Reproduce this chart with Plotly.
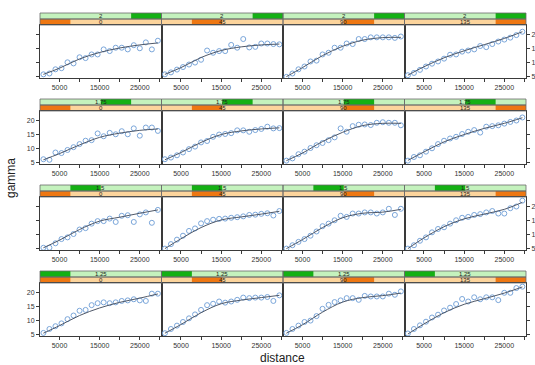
import plotly.graph_objects as go

# ---------------- data ----------------
anis_levels = ["2", "1.75", "1.5", "1.25"]          # rows, top to bottom
anis_pos = [3, 2, 1, 0]                               # level index of the shingle block
dir_levels = ["0", "45", "90", "135"]                 # columns, left to right
dir_pos = [0, 1, 2, 3]

lags = [1000, 2500, 4000, 5500, 7000, 8500, 10000, 11500, 13000, 14500,
        16000, 17500, 19000, 20500, 22000, 23500, 25000, 26500, 28000, 29500]
fit_x = [1000, 5000, 10000, 15000, 20000, 25000, 29500]

# observed semivariances (rows: anis 2, 1.75, 1.5, 1.25; cols: dir 0, 45, 90, 135)
g_2_0 = [5.8, 6.1, 7.6, 8.0, 10.1, 9.7, 11.9, 11.6, 12.9, 12.9, 14.7, 14.1, 15.3, 15.3, 14.7, 16.2, 15.1, 17.2, 14.7, 17.8]
g_2_45 = [5.8, 6.5, 7.5, 8.4, 9.3, 10.0, 11.0, 14.3, 13.5, 14.1, 14.1, 16.3, 15.3, 18.4, 15.4, 15.6, 16.8, 16.8, 16.6, 16.5]
g_2_90 = [4.9, 6.1, 7.6, 8.6, 10.4, 10.7, 12.9, 13.5, 15.3, 15.3, 16.8, 16.6, 18.4, 18.4, 19.0, 19.0, 19.0, 19.0, 18.8, 19.3]
g_2_135 = [5.5, 6.3, 7.4, 8.6, 9.6, 10.4, 11.4, 12.8, 12.9, 13.9, 14.3, 14.7, 15.9, 15.5, 16.6, 17.5, 18.2, 18.9, 19.8, 21.0]

g_175_0 = [6.2, 6.0, 8.6, 8.4, 9.5, 10.5, 11.6, 12.8, 13.0, 15.4, 14.4, 15.6, 15.1, 16.2, 15.1, 17.2, 14.6, 17.5, 17.5, 16.3]
g_175_45 = [6.2, 6.8, 7.6, 8.6, 9.8, 10.7, 12.2, 12.7, 14.2, 15.0, 15.2, 15.5, 16.5, 16.5, 16.0, 16.6, 17.0, 17.8, 17.2, 17.3]
g_175_90 = [5.7, 6.5, 8.0, 8.9, 10.2, 11.2, 12.0, 13.0, 14.0, 17.2, 16.0, 18.0, 18.5, 18.6, 18.4, 19.2, 19.4, 19.2, 19.2, 18.3]
g_175_135 = [5.7, 7.0, 7.6, 8.9, 10.1, 11.6, 12.8, 13.6, 14.2, 15.2, 16.0, 16.6, 15.7, 17.8, 18.0, 18.3, 18.9, 19.5, 20.0, 21.1]

g_15_0 = [5.3, 5.3, 6.9, 8.4, 9.0, 10.2, 11.8, 12.3, 13.9, 14.8, 14.8, 15.7, 14.5, 16.7, 16.9, 14.5, 17.2, 17.9, 14.2, 18.8]
g_15_45 = [5.0, 6.6, 8.2, 9.6, 11.3, 12.2, 14.0, 14.8, 15.3, 15.6, 15.7, 16.0, 16.2, 16.5, 17.0, 17.1, 17.4, 17.6, 16.8, 18.4]
g_15_90 = [5.0, 6.2, 7.4, 8.4, 9.6, 11.1, 13.0, 13.9, 15.1, 16.7, 16.3, 17.5, 17.5, 17.9, 17.9, 17.5, 17.9, 19.2, 17.0, 19.2]
g_15_135 = [5.0, 6.2, 7.8, 9.0, 10.8, 12.0, 12.6, 13.9, 15.1, 16.0, 16.3, 17.0, 17.3, 17.9, 18.4, 17.5, 17.5, 19.4, 20.0, 22.1]

g_125_0 = [5.6, 7.0, 8.0, 9.0, 10.5, 11.8, 13.5, 13.8, 15.5, 16.2, 16.5, 16.2, 16.5, 17.0, 17.2, 17.6, 17.2, 17.0, 19.6, 19.6]
g_125_45 = [5.5, 7.0, 8.2, 9.5, 10.8, 12.2, 13.8, 15.5, 16.0, 16.8, 16.4, 16.8, 17.4, 18.2, 18.0, 18.2, 18.2, 18.4, 17.0, 19.0]
g_125_90 = [5.6, 7.0, 8.2, 9.5, 10.0, 11.6, 14.2, 15.6, 16.6, 17.2, 18.0, 18.0, 17.4, 18.8, 18.6, 18.6, 18.6, 19.6, 19.2, 20.4]
g_125_135 = [5.4, 7.0, 8.3, 9.6, 11.1, 12.1, 13.6, 14.6, 15.9, 17.7, 16.8, 18.3, 17.6, 18.3, 18.3, 17.3, 19.9, 19.9, 21.6, 22.1]

# fitted model curve values at fit_x
f_2_0 = [5.8, 8.0, 11.3, 13.6, 15.2, 16.3, 17.0]
f_2_45 = [5.8, 8.2, 11.8, 14.3, 15.6, 16.3, 16.6]
f_2_90 = [5.0, 8.2, 12.5, 15.8, 18.0, 18.9, 19.0]
f_2_135 = [5.5, 8.5, 11.7, 14.2, 16.4, 18.6, 21.0]
f_175_0 = [6.0, 8.2, 11.3, 14.0, 15.5, 16.5, 17.0]
f_175_45 = [6.0, 8.6, 12.2, 15.0, 16.3, 17.0, 17.4]
f_175_90 = [5.7, 8.4, 12.5, 15.8, 18.2, 19.0, 19.0]
f_175_135 = [5.8, 8.8, 12.4, 15.0, 17.2, 19.0, 21.0]
f_15_0 = [5.3, 8.0, 11.8, 14.8, 16.2, 17.6, 18.8]
f_15_45 = [5.0, 8.5, 12.5, 15.2, 16.3, 17.3, 18.3]
f_15_90 = [5.0, 8.2, 12.5, 16.0, 17.6, 18.0, 19.0]
f_15_135 = [5.0, 8.8, 12.8, 15.6, 17.3, 19.0, 21.5]
f_125_0 = [5.5, 8.2, 11.8, 14.5, 16.5, 18.0, 19.5]
f_125_45 = [5.5, 8.6, 12.8, 16.0, 17.3, 18.2, 19.0]
f_125_90 = [5.5, 8.5, 13.0, 16.6, 18.2, 18.9, 19.8]
f_125_135 = [5.2, 8.8, 12.8, 15.8, 17.8, 19.8, 22.0]

obs = [[g_2_0, g_2_45, g_2_90, g_2_135],
       [g_175_0, g_175_45, g_175_90, g_175_135],
       [g_15_0, g_15_45, g_15_90, g_15_135],
       [g_125_0, g_125_45, g_125_90, g_125_135]]
fits = [[f_2_0, f_2_45, f_2_90, f_2_135],
        [f_175_0, f_175_45, f_175_90, f_175_135],
        [f_15_0, f_15_45, f_15_90, f_15_135],
        [f_125_0, f_125_45, f_125_90, f_125_135]]

x_tickvals = [5000, 10000, 15000, 20000, 25000, 30000]
x_ticktext = ["5000", "", "15000", "", "25000", ""]
y_tickvals = [5, 10, 15, 20]
y_ticktext = ["5", "10", "15", "20"]

# ---------------- layout (pixels) ----------------
W, H = 535, 365
PANEL_LEFT = 40.0
PANEL_W = 121.5
PANEL_TOP0 = 25.0
ROW_STEP = 86.0
PANEL_H = 53.0
STRIP_H = 6.0

def fx(px):
    return px / W

def fy(py):
    return 1 - py / H

GREEN_BG = "#c4f2bd"
GREEN_FG = "#14b014"
PEACH_BG = "#fcd49c"
ORANGE_FG = "#ee7712"
STRIP_LINE = "#6b6b6b"
AXIS_COL = "#3a3a3a"
PT_COL = "#7aa6da"
LINE_COL = "#4f5868"
TICK_FONT = dict(size=7, color="#333333", family="Liberation Sans")
STRIP_FONT = dict(size=6, color="#222222", family="Liberation Sans")

fig = go.Figure()
shapes = []
annotations = []

for r in range(4):
    top = PANEL_TOP0 + r * ROW_STEP
    for c in range(4):
        idx = r * 4 + c + 1
        xa = "x" if idx == 1 else f"x{idx}"
        ya = "y" if idx == 1 else f"y{idx}"
        left = PANEL_LEFT + c * PANEL_W
        right = left + PANEL_W

        fig.add_trace(go.Scatter(
            x=lags, y=obs[r][c], mode="markers", xaxis=xa, yaxis=ya,
            marker=dict(symbol="circle-open", size=5, color=PT_COL, line=dict(width=1, color=PT_COL)),
            showlegend=False, hoverinfo="skip"))
        fig.add_trace(go.Scatter(
            x=fit_x, y=fits[r][c], mode="lines", xaxis=xa, yaxis=ya,
            line=dict(color=LINE_COL, width=1, shape="spline", smoothing=1.0),
            showlegend=False, hoverinfo="skip"))

        xkey = "xaxis" if idx == 1 else f"xaxis{idx}"
        ykey = "yaxis" if idx == 1 else f"yaxis{idx}"
        fig.layout[xkey] = dict(
            domain=[fx(left), fx(right)], anchor=ya, range=[150, 30400],
            automargin=False,
            showgrid=False, zeroline=False, showline=True, linecolor=AXIS_COL,
            linewidth=1, mirror=True, ticks="outside", ticklen=3, tickcolor=AXIS_COL,
            tickvals=x_tickvals, ticktext=x_ticktext, tickfont=TICK_FONT)
        ydict = dict(
            domain=[fy(top + PANEL_H), fy(top)], anchor=xa, range=[4.5, 23.4],
            automargin=False,
            showgrid=False, zeroline=False, showline=True, linecolor=AXIS_COL,
            linewidth=1, mirror=True,
            tickvals=y_tickvals, ticktext=y_ticktext, tickfont=TICK_FONT)
        if c == 0:
            ydict.update(side="left", ticks="outside", ticklen=3, tickcolor=AXIS_COL,
                         showticklabels=(r % 2 == 1))
        elif c == 3:
            ydict.update(side="right", ticks="outside", ticklen=3, tickcolor=AXIS_COL,
                         showticklabels=(r % 2 == 0))
        else:
            ydict.update(ticks="", showticklabels=False)
        fig.layout[ykey] = ydict

        # strips: top = anis (green), bottom = direction (orange)
        g_top, g_bot = top - 2 * STRIP_H, top - STRIP_H
        o_top, o_bot = top - STRIP_H, top
        q = PANEL_W / 4
        shapes.append(dict(type="rect", xref="paper", yref="paper",
                           x0=fx(left), x1=fx(right), y0=fy(g_bot), y1=fy(g_top),
                           fillcolor=GREEN_BG, line=dict(width=0), layer="below"))
        gl = left + anis_pos[r] * q
        shapes.append(dict(type="rect", xref="paper", yref="paper",
                           x0=fx(gl), x1=fx(gl + q), y0=fy(g_bot), y1=fy(g_top),
                           fillcolor=GREEN_FG, line=dict(width=0), layer="below"))
        shapes.append(dict(type="rect", xref="paper", yref="paper",
                           x0=fx(left), x1=fx(right), y0=fy(o_bot), y1=fy(o_top),
                           fillcolor=PEACH_BG, line=dict(width=0), layer="below"))
        ol = left + dir_pos[c] * q
        shapes.append(dict(type="rect", xref="paper", yref="paper",
                           x0=fx(ol), x1=fx(ol + q), y0=fy(o_bot), y1=fy(o_top),
                           fillcolor=ORANGE_FG, line=dict(width=0), layer="below"))
        for (a, b) in [(g_top, g_bot), (o_top, o_bot)]:
            shapes.append(dict(type="rect", xref="paper", yref="paper",
                               x0=fx(left), x1=fx(right), y0=fy(b), y1=fy(a),
                               fillcolor="rgba(0,0,0,0)", line=dict(width=0.8, color=STRIP_LINE)))
        cx = fx(left + PANEL_W / 2)
        annotations.append(dict(text=anis_levels[r], x=cx, y=fy((g_top + g_bot) / 2),
                                xref="paper", yref="paper", showarrow=False,
                                font=STRIP_FONT, xanchor="center", yanchor="middle"))
        annotations.append(dict(text=dir_levels[c], x=cx, y=fy((o_top + o_bot) / 2),
                                xref="paper", yref="paper", showarrow=False,
                                font=STRIP_FONT, xanchor="center", yanchor="middle"))

annotations.append(dict(text="distance", x=fx(282), y=fy(358), xref="paper", yref="paper",
                        showarrow=False, font=dict(size=12, color="#222222", family="Liberation Sans"),
                        xanchor="center", yanchor="middle"))
annotations.append(dict(text="gamma", x=fx(11), y=fy(178), xref="paper", yref="paper",
                        showarrow=False, textangle=-90,
                        font=dict(size=12, color="#222222", family="Liberation Sans"),
                        xanchor="center", yanchor="middle"))

fig.update_layout(width=W, height=H, autosize=False,
                  margin=dict(l=0, r=0, t=0, b=0, autoexpand=False),
                  paper_bgcolor="white", plot_bgcolor="white",
                  shapes=shapes, annotations=annotations)

fig.write_html("out.html", config={"displayModeBar": False},
               post_script="document.body.style.margin='0';document.body.style.overflow='hidden';")
